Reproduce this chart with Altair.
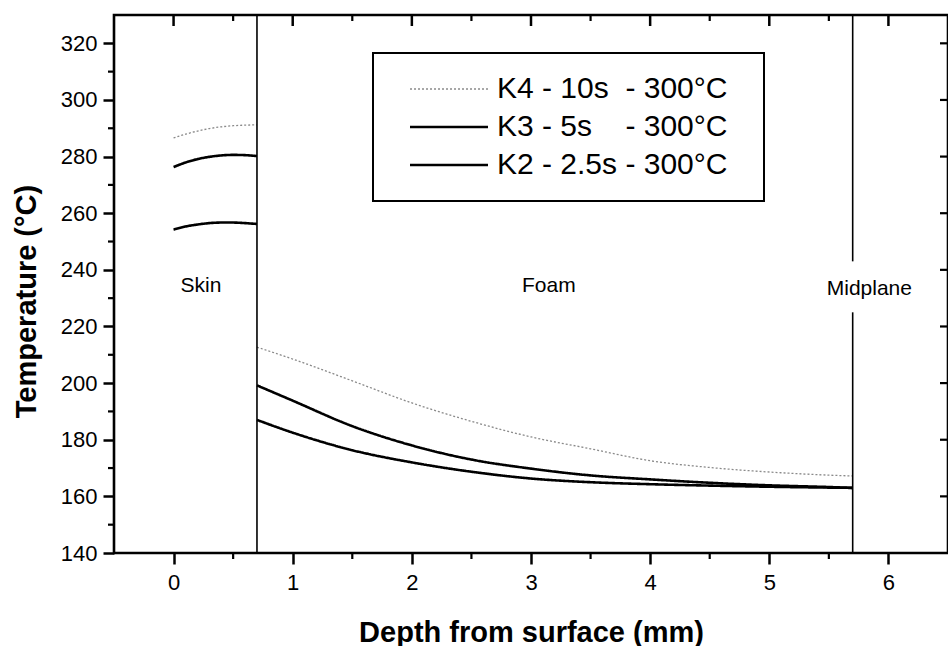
import altair as alt
import pandas as pd

# ---- data ----
skin_depth = [0.0, 0.1, 0.2, 0.3, 0.4, 0.5, 0.6, 0.7]
k4_skin = [286.6, 287.9, 289.0, 289.9, 290.5, 290.9, 291.1, 291.2]
k3_skin = [276.3, 277.9, 279.1, 279.9, 280.4, 280.6, 280.5, 280.2]
k2_skin = [254.2, 255.3, 256.0, 256.5, 256.7, 256.7, 256.5, 256.2]

foam_depth = [0.7, 1.0, 1.5, 2.0, 2.5, 3.0, 3.5, 4.0, 4.5, 5.0, 5.5, 5.7]
k4_foam = [212.7, 208.5, 200.8, 193.0, 186.5, 181.0, 176.8, 172.6, 170.2, 168.6, 167.5, 167.2]
k3_foam = [199.2, 193.8, 184.8, 178.0, 173.0, 169.8, 167.4, 166.0, 164.8, 163.9, 163.3, 163.0]
k2_foam = [187.0, 182.5, 176.3, 172.0, 168.7, 166.3, 165.0, 164.3, 163.8, 163.4, 163.1, 163.0]

series_names = [
    "K4 - 10s\u00a0\u00a0- 300°C",
    "K3 - 5s\u00a0\u00a0\u00a0\u00a0- 300°C",
    "K2 - 2.5s - 300°C",
]
series_colors = ["#8a8a8a", "#000000", "#000000"]
series_dash = [[2, 2], [1, 0], [1, 0]]
series_widths = [1.3, 2.6, 2.6]

boundary_x = [0.7, 5.7, 5.7]
boundary_lo = [140, 140, 243]
boundary_hi = [330, 225, 330]

region_labels = ["Skin", "Foam", "Midplane"]
region_x = [0.23, 3.15, 5.84]
region_y = [232, 232, 231]

x_major = [0, 1, 2, 3, 4, 5, 6]
x_minor = [0.5, 1.5, 2.5, 3.5, 4.5, 5.5]
y_major = [140, 160, 180, 200, 220, 240, 260, 280, 300, 320]
y_minor = [150, 170, 190, 210, 230, 250, 270, 290, 310]

# ---- tables ----
rows = []
for name, skin, foam in zip(series_names, [k4_skin, k3_skin, k2_skin], [k4_foam, k3_foam, k2_foam]):
    for d, t in zip(skin_depth, skin):
        rows.append({"depth": d, "temp": t, "series": name, "segment": "skin"})
    for d, t in zip(foam_depth, foam):
        rows.append({"depth": d, "temp": t, "series": name, "segment": "foam"})
df = pd.DataFrame(rows)

bounds = pd.DataFrame({"depth": boundary_x, "temp": boundary_lo, "temp2": boundary_hi})
regions = pd.DataFrame({"label": region_labels, "depth": region_x, "temp": region_y})
xmaj = pd.DataFrame({"depth": x_major})
xmin = pd.DataFrame({"depth": x_minor})
ymaj = pd.DataFrame({"temp": y_major[1:]})
ymin = pd.DataFrame({"temp": y_minor})

FONT = "Liberation Sans"
W, H = 834, 538
xs = alt.Scale(domain=[-0.5, 6.5], nice=False, zero=False)
ys = alt.Scale(domain=[140, 330], nice=False, zero=False)

x_axis = alt.Axis(
    orient="bottom", values=x_major, tickSize=11, tickWidth=2.5, tickColor="black",
    domain=False, grid=False, labelFontSize=22, labelFont=FONT, labelColor="black",
    labelPadding=8, title="Depth from surface (mm)", titleFont=FONT, titleFontSize=29,
    titleFontWeight="bold", titleColor="black", titleY=88, titleBaseline="alphabetic")
y_axis = alt.Axis(
    orient="left", values=y_major, tickSize=11, tickWidth=2.5, tickColor="black",
    domain=False, grid=False, labelFontSize=22, labelFont=FONT, labelColor="black",
    labelPadding=6, title="Temperature (°C)", titleFont=FONT, titleFontSize=29,
    titleFontWeight="bold", titleColor="black", titleX=-79, titleY=286,
    titleBaseline="alphabetic", titleAngle=270)

X = alt.X("depth:Q", scale=xs, axis=x_axis)
Y = alt.Y("temp:Q", scale=ys, axis=y_axis)

legend = alt.Legend(
    orient="none", legendX=259, legendY=38,
    title="\u00a0", titleOrient="right", titleFontSize=2, titlePadding=16,
    strokeColor="black", padding=21, fillColor="white",
    symbolType="M-4,0H4", symbolSize=380, symbolOffset=40,
    labelOffset=33, labelFontSize=30, labelFont=FONT, labelColor="black",
    labelLimit=600, rowPadding=8,
)

lines = alt.Chart(df).mark_line(strokeCap="butt", interpolate="monotone").encode(
    x=X, y=Y,
    color=alt.Color("series:N", scale=alt.Scale(domain=series_names, range=series_colors), legend=legend),
    strokeDash=alt.StrokeDash("series:N", scale=alt.Scale(domain=series_names, range=series_dash), legend=legend),
    strokeWidth=alt.StrokeWidth("series:N", scale=alt.Scale(type="ordinal", domain=series_names, range=series_widths), legend=legend),
    detail="segment:N",
    order="depth:Q",
)

rules = alt.Chart(bounds).mark_rule(color="black", strokeWidth=1.6).encode(
    x=X, y=Y, y2="temp2:Q",
)

texts = alt.Chart(regions).mark_text(font=FONT, fontSize=21, color="black",
                                      baseline="alphabetic", align="center").encode(
    x=X, y=Y, text="label:N",
)

# minor ticks on bottom/left, inward ticks on top/right frame edges
bottom_small = alt.Chart(xmin).mark_rule(color="black", strokeWidth=2.2).encode(
    x=X, y=alt.value(H), y2=alt.value(H + 6))
left_small = alt.Chart(ymin).mark_rule(color="black", strokeWidth=2.2).encode(
    y=Y, x=alt.value(-6), x2=alt.value(0))
top_big = alt.Chart(xmaj).mark_rule(color="black", strokeWidth=2.5).encode(
    x=X, y=alt.value(0), y2=alt.value(11))
top_small = alt.Chart(xmin).mark_rule(color="black", strokeWidth=2.2).encode(
    x=X, y=alt.value(0), y2=alt.value(6))
right_big = alt.Chart(ymaj).mark_rule(color="black", strokeWidth=2.2).encode(
    y=Y, x=alt.value(W - 8), x2=alt.value(W))

chart = alt.layer(lines, rules, texts, bottom_small, left_small, top_big, top_small, right_big).properties(
    width=W, height=H,
    padding={"left": 114, "top": 15, "right": 0, "bottom": 93},
    autosize=alt.AutoSizeParams(type="none"),
    background="white",
).configure_view(stroke="black", strokeWidth=2.6).configure_legend(strokeWidth=2)

chart.save("out.html", embed_options={"renderer": "svg", "actions": False})
